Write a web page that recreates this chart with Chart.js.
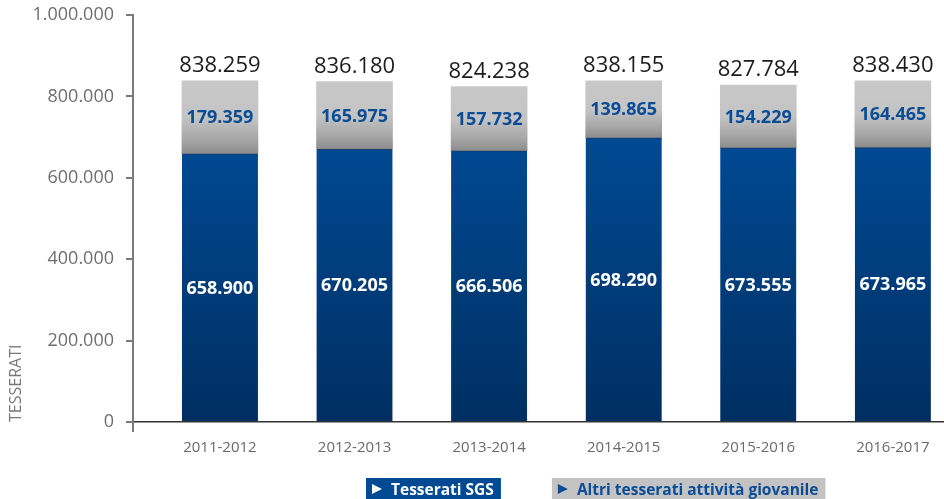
<!DOCTYPE html>
<html lang="it">
<head>
<meta charset="utf-8">
<title>Tesserati SGS</title>
<script src="https://cdn.jsdelivr.net/npm/chart.js@4.4.1/dist/chart.umd.min.js"></script>
<style>
  html, body { margin: 0; padding: 0; background: #ffffff; }
  #wrap { width: 944px; height: 499px; position: relative; }
</style>
</head>
<body>
<div id="wrap"><canvas id="chart"></canvas></div>
<script>
// stagioni e tesserati
const stagioni = ['2011-2012', '2012-2013', '2013-2014', '2014-2015', '2015-2016', '2016-2017'];
const tesseratiSGS = [658900, 670205, 666506, 698290, 673555, 673965];
const altriTesserati = [179359, 165975, 157732, 139865, 154229, 164465];
const totali = [838259, 836180, 824238, 838155, 827784, 838430];
const yTicks = [0, 200000, 400000, 600000, 800000, 1000000];

const FONT = '"Open Sans", "Noto Sans", sans-serif';
const BLU = '#0a4c95';

function fmt(n) {
  return String(n).replace(/\B(?=(\d{3})+(?!\d))/g, '.');
}

// asse x numerico: una stagione per unità, con margine a sinistra
const xPunti = (serie) => serie.map((v, i) => ({ x: i, y: v }));

// gradiente blu su tutta l'altezza dell'area
function bluGradient(ctx) {
  const chart = ctx.chart;
  const area = chart.chartArea;
  if (!area) return '#004a93';
  const y = chart.scales.y;
  const g = chart.ctx.createLinearGradient(0, area.bottom, 0, y.getPixelForValue(700000));
  g.addColorStop(0, '#002f62');
  g.addColorStop(1, '#004a94');
  return g;
}

// gradiente grigio per ogni barra
function grigioGradient(ctx) {
  const chart = ctx.chart;
  if (!chart.chartArea || ctx.dataIndex === undefined) return '#c6c6c6';
  const y = chart.scales.y;
  const i = ctx.dataIndex;
  const top = y.getPixelForValue(tesseratiSGS[i] + altriTesserati[i]);
  const bottom = y.getPixelForValue(tesseratiSGS[i]);
  const g = chart.ctx.createLinearGradient(0, top, 0, bottom);
  g.addColorStop(0, '#c8c8c8');
  g.addColorStop(0.5, '#c4c4c4');
  g.addColorStop(0.8, '#a7a7a7');
  g.addColorStop(1, '#8c8c8c');
  return g;
}

const labelsPlugin = {
  id: 'valori',
  afterDatasetsDraw(chart) {
    const ctx = chart.ctx;
    ctx.save();
    ctx.textAlign = 'center';
    chart.data.datasets.forEach((ds, di) => {
      const meta = chart.getDatasetMeta(di);
      meta.data.forEach((bar, i) => {
        const p = bar.getProps(['x', 'y', 'base'], true);
        ctx.textBaseline = 'middle';
        ctx.font = 'bold 18px ' + FONT;
        ctx.fillStyle = di === 0 ? '#ffffff' : BLU;
        ctx.fillText(fmt(ds.data[i].y), p.x, (p.y + p.base) / 2 + 1);
        if (di === 1) {
          ctx.textBaseline = 'alphabetic';
          ctx.font = '22px ' + FONT;
          ctx.fillStyle = '#1c1c1c';
          ctx.fillText(fmt(totali[i]), p.x, p.y - 9);
        }
      });
    });
    ctx.restore();
  },
  afterDraw(chart) {
    const ctx = chart.ctx;
    const area = chart.chartArea;
    ctx.save();
    // prolungamento dell'asse y sotto lo zero
    ctx.strokeStyle = '#7a7a7a';
    ctx.lineWidth = 2;
    ctx.beginPath();
    ctx.moveTo(area.left, area.bottom);
    ctx.lineTo(area.left, area.bottom + 10);
    ctx.stroke();

    // legenda
    const items = [
      { text: chart.data.datasets[0].label, bg: '#004a93', fg: '#ffffff' },
      { text: chart.data.datasets[1].label, bg: '#c3c3c3', fg: BLU }
    ];
    let x = 366;
    const top = 478;
    ctx.font = 'bold 15.5px ' + FONT;
    ctx.textBaseline = 'alphabetic';
    ctx.textAlign = 'left';
    items.forEach(it => {
      const w = 6 + 10 + 9 + ctx.measureText(it.text).width + 7;
      ctx.fillStyle = it.bg;
      ctx.fillRect(x, top, w, chart.height - top);
      ctx.fillStyle = it.fg;
      ctx.beginPath();
      ctx.moveTo(x + 6, top + 6);
      ctx.lineTo(x + 16, top + 11);
      ctx.lineTo(x + 6, top + 16);
      ctx.closePath();
      ctx.fill();
      ctx.fillText(it.text, x + 25, top + 17);
      x += w + 51;
    });
    ctx.restore();
  }
};

new Chart(document.getElementById('chart'), {
  type: 'bar',
  data: {
    datasets: [
      {
        label: 'Tesserati SGS',
        data: xPunti(tesseratiSGS),
        backgroundColor: bluGradient,
        borderColor: '#1b3d68',
        borderWidth: { top: 1, left: 0, right: 0, bottom: 0 },
        borderSkipped: false,
        barThickness: 76
      },
      {
        label: 'Altri tesserati attività giovanile',
        data: xPunti(altriTesserati),
        backgroundColor: grigioGradient,
        borderWidth: 0,
        barThickness: 76
      }
    ]
  },
  options: {
    responsive: true,
    maintainAspectRatio: false,
    animation: false,
    layout: { padding: { top: 15, right: 0, left: 0, bottom: 0 } },
    plugins: {
      legend: { display: false },
      tooltip: { enabled: false }
    },
    scales: {
      x: {
        type: 'linear',
        stacked: true,
        offset: false,
        min: -0.646,
        max: 5.38,
        afterBuildTicks(scale) { scale.ticks = stagioni.map((s, i) => ({ value: i })); },
        grid: { display: false },
        border: { color: '#333333', width: 1.5 },
        ticks: {
          color: '#6a6a6a',
          font: { family: FONT, size: 15 },
          padding: 9,
          callback: v => stagioni[v]
        },
        afterFit(scale) {
          scale.height = 77;
          scale.paddingLeft = 0;
          scale.paddingRight = 0;
        }
      },
      y: {
        stacked: true,
        min: 0,
        max: 1000000,
        afterBuildTicks(scale) { scale.ticks = yTicks.map(v => ({ value: v })); },
        grid: { drawOnChartArea: false, tickLength: 7, color: '#7a7a7a', lineWidth: 2 },
        border: { color: '#7a7a7a', width: 2 },
        ticks: {
          color: '#6e6e6e',
          font: { family: FONT, size: 18 },
          padding: 12,
          callback: v => fmt(v)
        },
        title: {
          display: true,
          text: 'TESSERATI',
          align: 'start',
          color: '#777777',
          font: { family: FONT, size: 16 },
          padding: { top: 7, bottom: 0 }
        },
        afterFit(scale) {
          scale.width = 133;
          scale.paddingTop = 0;
          scale.paddingBottom = 0;
        }
      }
    }
  },
  plugins: [labelsPlugin]
});
</script>
</body>
</html>
